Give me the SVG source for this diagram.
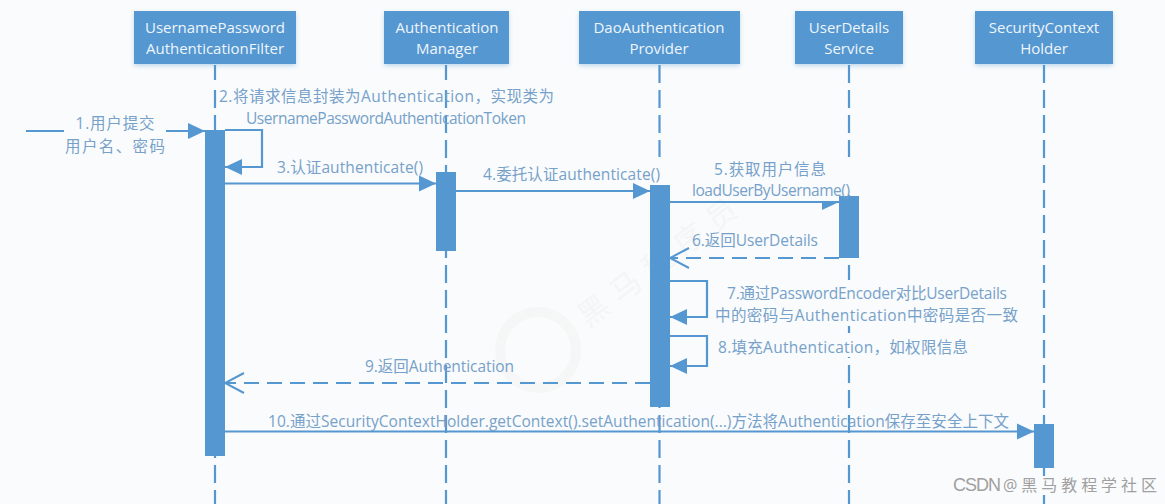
<svg xmlns="http://www.w3.org/2000/svg" width="1165" height="504" viewBox="0 0 1165 504">
<defs>
<marker id="solid" markerUnits="userSpaceOnUse" markerWidth="18" markerHeight="18" refX="17" refY="9" orient="auto"><path d="M0 1L17 9L0 17Z" fill="#5597d1"/></marker>
<marker id="open" markerUnits="userSpaceOnUse" markerWidth="22" markerHeight="24" refX="20" refY="12" orient="auto"><path d="M1 2L20 12L1 22" fill="none" stroke="#5597d1" stroke-width="2"/></marker>
<filter id="sh" x="-5%" y="-10%" width="110%" height="130%"><feDropShadow dx="0" dy="2" stdDeviation="2" flood-color="#5597d1" flood-opacity=".35"/></filter>
</defs>
<style>
text{font-family:"Open Sans","Noto Sans CJK SC",sans-serif;text-anchor:middle;dominant-baseline:central}
.n rect{fill:#5597d1;filter:url(#sh)}
.n text{fill:#eef5fb;font-size:15px}
.l{stroke:#5597d1;stroke-width:2.2;stroke-dasharray:18 7;fill:none}
.b{fill:#5597d1}
.m{stroke:#5597d1;stroke-width:2.2;fill:none}
.r{stroke-dasharray:15 8}
.t{fill:#76a1ca;font-size:15.500px}
.g{fill:#fafbfc}
.w{fill:#f4f5f6}
.c{fill:#a0a0a0;font-size:17px}
</style>
<rect width="1165" height="504" fill="#fafbfc"/>
<g id="background-mark">
<circle cx="538" cy="350" r="38" fill="none" stroke="#f5f6f6" stroke-width="10"/>
<text class="w" x="657" y="262" font-size="30" textLength="190" transform="rotate(-37 657 262)">黑马程序员</text>
</g>
<g id="lifelines">
<path class="l" d="M215 65V504"/><path class="l" d="M446 65V504"/><path class="l" d="M659.500 65V504"/><path class="l" d="M849 65V504"/><path class="l" d="M1044 65V504"/>
</g>
<g id="node-filter" class="n"><rect x="134" y="11" width="162" height="53"/><text x="215" y="27">UsernamePassword</text><text x="215" y="48">AuthenticationFilter</text></g>
<g id="node-manager" class="n"><rect x="384" y="11" width="125" height="53"/><text x="447" y="27">Authentication</text><text x="447" y="48">Manager</text></g>
<g id="node-provider" class="n"><rect x="579" y="11" width="161" height="53"/><text x="659" y="27">DaoAuthentication</text><text x="659" y="48">Provider</text></g>
<g id="node-service" class="n"><rect x="795" y="11" width="108" height="53"/><text x="849" y="27">UserDetails</text><text x="849" y="48">Service</text></g>
<g id="node-holder" class="n"><rect x="975" y="11" width="138" height="53"/><text x="1044" y="27">SecurityContext</text><text x="1044" y="48">Holder</text></g>
<g id="label-backgrounds">
<rect class="g" x="205" y="80" width="20" height="9"/><rect class="g" x="440" y="80" width="12" height="9"/><rect class="g" x="652" y="157" width="15" height="26"/><rect class="g" x="842" y="157" width="14" height="38"/><rect class="g" x="842" y="280" width="14" height="46"/><rect class="g" x="842" y="335" width="14" height="22"/><rect class="g" x="1036" y="476" width="16" height="19"/>
</g>
<g id="activations">
<rect class="b" x="205" y="130" width="20" height="326"/><rect class="b" x="436" y="172" width="20" height="79"/><rect class="b" x="650" y="185" width="20" height="222"/><rect class="b" x="839" y="196" width="20" height="62"/><rect class="b" x="1034" y="424" width="20" height="44"/>
</g>
<g id="connectors">
<path class="m" marker-end="url(#solid)" d="M26 131H64M166 131H205"/>
<path class="m" marker-end="url(#solid)" d="M225 130H262V167H225"/>
<path class="m" marker-end="url(#solid)" d="M225 183.500H436"/>
<path class="m" marker-end="url(#solid)" d="M456 191H650"/>
<path class="m" marker-end="url(#solid)" d="M670 202H839"/>
<path class="m r" marker-end="url(#open)" d="M839 258H670"/>
<path class="m" marker-end="url(#solid)" d="M670 281H707V317H670"/>
<path class="m" marker-end="url(#solid)" d="M670 336H707V366H670"/>
<path class="m r" marker-end="url(#open)" d="M650 383H225"/>
<path class="m" marker-end="url(#solid)" d="M225 431.500H1034"/>
</g>
<rect class="g" x="820" y="190" width="19" height="11"/>
<g id="labels">
<text class="t" x="115" y="123" textLength="79">1.用户提交</text><text class="t" x="115" y="146" textLength="100">用户名、密码</text>
<text class="t" x="386.500" y="96" textLength="335">2.将请求信息封装为Authentication，实现类为</text><text class="t" x="386" y="118" textLength="280">UsernamePasswordAuthenticationToken</text>
<text class="t" x="350" y="167" textLength="146">3.认证authenticate()</text>
<text class="t" x="571.500" y="174" textLength="177">4.委托认证authenticate()</text>
<text class="t" x="770" y="169" textLength="112">5.获取用户信息</text><text class="t" x="771" y="190" textLength="158">loadUserByUsername()</text>
<text class="t" x="755" y="240" textLength="126">6.返回UserDetails</text>
<text class="t" x="867" y="293" textLength="280">7.通过PasswordEncoder对比UserDetails</text><text class="t" x="866.500" y="315" textLength="303">中的密码与Authentication中密码是否一致</text>
<text class="t" x="843" y="347" textLength="250">8.填充Authentication，如权限信息</text>
<text class="t" x="439.500" y="366" textLength="149">9.返回Authentication</text>
<text class="t" x="638.500" y="421" textLength="741">10.通过SecurityContextHolder.getContext().setAuthentication(...)方法将Authentication保存至安全上下文</text>
<text class="c" x="977" y="485" font-size="18" textLength="48" style="font-family:'Liberation Sans',sans-serif;font-size:18px">CSDN</text>
<text class="c" x="1080" y="485" textLength="154" style="font-size:16px">@黑马教程学社区</text>
</g>
</svg>
